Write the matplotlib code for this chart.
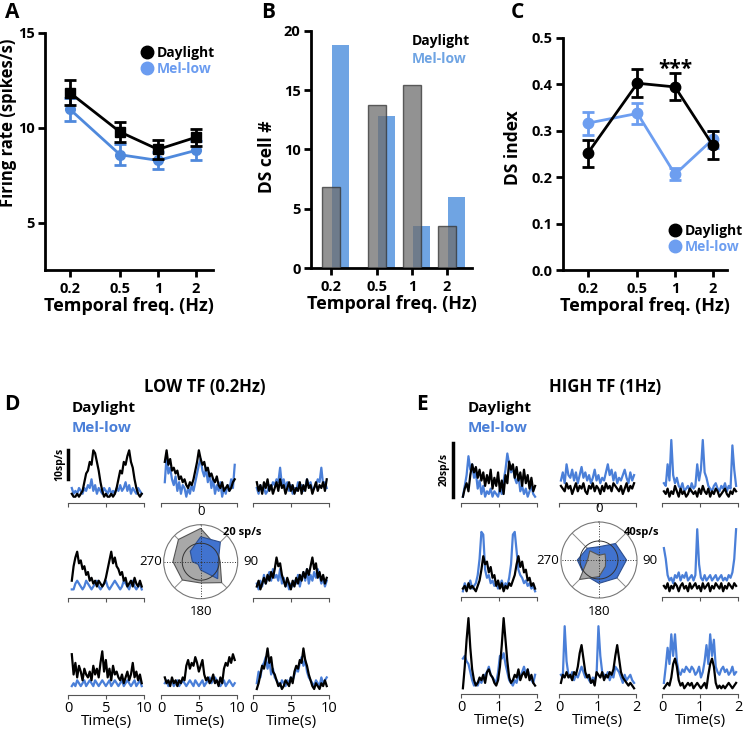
import numpy as np
import matplotlib.pyplot as plt
from matplotlib.lines import Line2D

plt.rcParams['font.family'] = ['Open Sans', 'DejaVu Sans']

W, H = 745, 733

freqs = [0.2, 0.5, 1, 2]
freq_labels = ['0.2', '0.5', '1', '2']

# A: firing rate (spikes/s)
rate_day = [11.85, 9.78, 8.86, 9.5]
rate_day_err = [0.65, 0.55, 0.5, 0.45]
rate_mel = [10.98, 8.58, 8.28, 8.81]
rate_mel_err = [0.6, 0.55, 0.45, 0.5]

# B: number of DS cells
ds_count_day = [6.85, 13.7, 15.4, 3.5]
ds_count_mel = [18.8, 12.8, 3.5, 6.0]

# C: DS index
ds_day = [0.251, 0.402, 0.394, 0.269]
ds_day_err = [0.029, 0.03, 0.029, 0.03]
ds_mel = [0.316, 0.337, 0.206, 0.281]
ds_mel_err = [0.025, 0.023, 0.013, 0.018]

# polar tuning (sp/s) for directions 0..315
directions = [0, 45, 90, 135, 180, 225, 270, 315]
low_tf_day = [18, 12, 10.5, 16, 11.5, 14, 15, 17]
low_tf_mel = [13.5, 15, 9.5, 13, 4.5, 2, 4.5, 8]
high_tf_day = [5, 9, 7, 9.5, 17.5, 29, 12, 13.7]
high_tf_mel = [14, 24.5, 29, 26.7, 24.6, 22, 22.8, 17.5]

# PSTH traces (sp/s), order: row1 c1-c3, row2 c1, row2 c3, row3 c1-c3
t_low = np.linspace(0.5, 9.7, 40)
t_high = np.linspace(0.05, 1.95, 40)

low_day = [
    [1, 0, 0, 1, 0, 1, 2, 5, 8, 9, 12, 11, 16, 15, 12, 9, 5, 2, 0, 1, 0, 0, 1, 0, 1, 3, 6, 9, 8, 12, 11, 14, 16, 12, 10, 6, 3, 1, 0, 1],
    [12, 16, 11, 13, 9, 10, 8, 9, 6, 7, 5, 6, 4, 3, 5, 4, 6, 9, 12, 16, 13, 11, 12, 9, 10, 7, 8, 6, 5, 7, 4, 3, 5, 2, 3, 4, 2, 3, 5, 6],
    [5, 2, 4, 1, 5, 3, 6, 2, 4, 1, 3, 5, 2, 6, 3, 4, 1, 3, 5, 2, 4, 1, 3, 2, 5, 1, 4, 2, 6, 3, 4, 1, 3, 5, 2, 4, 3, 5, 2, 6],
    [4, 9, 12, 14, 10, 11, 8, 9, 6, 7, 4, 5, 3, 4, 2, 4, 3, 2, 3, 5, 8, 11, 14, 10, 12, 9, 8, 6, 7, 4, 5, 2, 3, 4, 2, 5, 3, 2, 4, 2],
    [2, 4, 1, 3, 5, 3, 6, 4, 7, 5, 8, 12, 9, 10, 6, 4, 2, 5, 3, 1, 4, 2, 5, 3, 6, 4, 7, 5, 8, 6, 9, 12, 8, 10, 5, 7, 4, 6, 3, 5],
    [12, 5, 9, 4, 8, 6, 3, 7, 5, 4, 6, 3, 8, 5, 7, 4, 9, 13, 6, 10, 4, 7, 3, 8, 5, 6, 4, 3, 5, 2, 4, 6, 3, 5, 9, 4, 6, 3, 5, 2],
    [4, 2, 3, 1, 4, 2, 3, 1, 3, 2, 4, 3, 8, 10, 7, 9, 8, 11, 9, 6, 8, 10, 5, 3, 4, 2, 3, 5, 2, 3, 1, 4, 2, 7, 9, 8, 11, 9, 12, 10],
    [0, 2, 5, 8, 7, 10, 14, 9, 11, 6, 5, 3, 1, 2, 0, 1, 3, 2, 1, 4, 2, 6, 8, 7, 10, 9, 14, 10, 8, 5, 3, 1, 0, 2, 1, 0, 2, 1, 3, 1],
]
low_mel = [
    [3, 1, 2, 1, 3, 2, 1, 3, 2, 4, 3, 6, 2, 4, 1, 3, 2, 1, 3, 2, 1, 3, 1, 2, 1, 3, 2, 4, 2, 3, 5, 2, 4, 1, 3, 2, 1, 3, 2, 1],
    [5, 14, 8, 10, 6, 4, 7, 2, 5, 1, 4, 3, 0, 3, 1, 4, 2, 5, 8, 11, 13, 9, 7, 10, 5, 8, 3, 6, 1, 4, 2, 5, 0, 3, 1, 4, 2, 6, 3, 11],
    [3, 1, 4, 2, 3, 1, 2, 4, 3, 5, 4, 6, 5, 10, 4, 6, 3, 5, 2, 4, 1, 3, 2, 5, 3, 4, 2, 3, 6, 4, 5, 2, 3, 4, 6, 5, 10, 4, 5, 3],
    [1, 1, 3, 4, 3, 2, 1, 2, 4, 3, 2, 1, 2, 3, 4, 2, 1, 2, 3, 4, 2, 1, 2, 3, 4, 3, 2, 1, 2, 4, 3, 2, 1, 3, 4, 2, 1, 2, 3, 1],
    [3, 1, 4, 2, 6, 3, 5, 7, 4, 8, 5, 6, 4, 8, 3, 5, 2, 4, 1, 3, 2, 4, 3, 6, 2, 5, 7, 4, 8, 3, 6, 4, 7, 5, 8, 6, 3, 5, 2, 4],
    [1, 2, 1, 3, 2, 1, 2, 3, 1, 2, 3, 2, 1, 3, 2, 1, 2, 3, 2, 1, 2, 3, 1, 2, 3, 2, 1, 2, 3, 1, 2, 3, 2, 1, 2, 3, 1, 2, 3, 1],
    [2, 3, 1, 2, 3, 1, 2, 3, 1, 2, 3, 2, 1, 2, 3, 2, 1, 3, 2, 1, 2, 3, 1, 2, 3, 4, 2, 3, 4, 3, 2, 1, 2, 3, 1, 2, 3, 2, 1, 2],
    [2, 6, 4, 8, 9, 11, 7, 10, 5, 7, 4, 3, 2, 1, 3, 2, 1, 3, 2, 4, 3, 5, 7, 6, 9, 11, 8, 10, 6, 4, 3, 2, 1, 3, 2, 1, 4, 2, 3, 4],
]
high_day = [
    [0, 3, 5, 2, 8, 12, 9, 11, 7, 10, 6, 9, 4, 8, 5, 10, 3, 7, 4, 9, 2, 6, 1, 8, 5, 13, 10, 12, 7, 11, 6, 9, 4, 10, 5, 8, 3, 7, 2, 4],
    [4, 3, 2, 5, 3, 4, 1, 3, 5, 2, 4, 3, 5, 2, 1, 4, 3, 5, 2, 4, 3, 1, 4, 2, 5, 3, 4, 2, 5, 4, 3, 2, 4, 1, 3, 5, 2, 4, 3, 5],
    [2, 1, 3, 0, 2, 1, 4, 2, 0, 3, 1, 2, 0, 1, 3, 2, 1, 2, 0, 3, 1, 4, 2, 1, 3, 0, 2, 1, 3, 2, 0, 1, 2, 3, 1, 0, 2, 1, 3, 2],
    [1, 2, 0, 3, 1, 2, 1, 0, 2, 4, 8, 13, 10, 11, 7, 9, 5, 6, 2, 4, 1, 3, 0, 2, 1, 3, 2, 4, 6, 10, 13, 9, 11, 7, 8, 4, 5, 2, 3, 1],
    [2, 1, 3, 0, 2, 1, 3, 2, 0, 2, 3, 1, 2, 0, 3, 1, 2, 3, 1, 2, 0, 3, 1, 2, 3, 0, 2, 1, 3, 2, 1, 3, 0, 2, 1, 3, 2, 1, 3, 2],
    [0, 8, 18, 26, 15, 7, 3, 1, 2, 4, 3, 5, 2, 6, 7, 5, 4, 2, 1, 3, 8, 16, 26, 18, 10, 4, 2, 3, 5, 4, 7, 3, 5, 6, 4, 7, 3, 5, 2, 1],
    [2, 5, 4, 6, 4, 5, 3, 6, 5, 8, 13, 16, 11, 6, 4, 5, 2, 3, 1, 6, 5, 4, 6, 3, 5, 4, 6, 5, 7, 12, 16, 11, 6, 4, 3, 2, 1, 2, 1, 0],
    [0, 1, 2, 1, 4, 9, 11, 8, 3, 1, 2, 0, 1, 2, 1, 2, 0, 1, 2, 1, 0, 1, 2, 0, 5, 9, 11, 8, 2, 0, 1, 0, 1, 0, 1, 2, 1, 0, 1, 2],
]
high_mel = [
    [0, 4, 8, 15, 10, 12, 7, 9, 3, 6, 1, 4, 0, 2, 1, 3, 0, 2, 1, 0, 3, 1, 6, 10, 16, 12, 9, 11, 7, 5, 8, 2, 4, 1, 3, 0, 2, 4, 1, 0],
    [6, 9, 5, 12, 8, 7, 10, 6, 9, 5, 8, 11, 7, 9, 6, 8, 5, 7, 10, 6, 8, 5, 7, 6, 9, 12, 8, 10, 6, 9, 5, 7, 6, 8, 10, 7, 5, 9, 6, 8],
    [5, 4, 12, 6, 21, 8, 5, 7, 4, 3, 5, 2, 3, 4, 2, 5, 3, 4, 12, 6, 10, 21, 9, 7, 4, 3, 2, 4, 5, 3, 2, 4, 3, 5, 2, 4, 3, 19, 10, 4],
    [0, 3, 1, 2, 4, 1, 2, 3, 6, 12, 22, 21, 8, 5, 6, 3, 4, 2, 3, 1, 2, 4, 1, 3, 2, 5, 10, 21, 22, 15, 8, 6, 5, 3, 4, 2, 3, 1, 2, 0],
    [16, 12, 6, 4, 5, 3, 6, 5, 7, 4, 6, 5, 7, 4, 5, 6, 4, 6, 23, 10, 5, 4, 6, 4, 5, 6, 4, 5, 6, 4, 5, 6, 4, 5, 4, 6, 5, 7, 12, 23],
    [11, 12, 10, 9, 6, 3, 1, 2, 1, 3, 2, 4, 5, 6, 8, 5, 4, 3, 2, 6, 12, 11, 13, 9, 6, 3, 2, 1, 3, 2, 5, 4, 6, 8, 5, 7, 4, 3, 2, 5],
    [5, 4, 23, 10, 5, 4, 6, 3, 5, 4, 6, 8, 6, 4, 5, 3, 2, 4, 3, 5, 23, 12, 6, 5, 4, 6, 3, 5, 4, 8, 7, 6, 4, 2, 5, 3, 4, 5, 3, 2],
    [2, 8, 15, 9, 20, 12, 20, 10, 6, 5, 7, 6, 8, 7, 6, 8, 7, 5, 6, 8, 4, 6, 10, 16, 9, 20, 12, 18, 8, 6, 5, 7, 8, 6, 7, 5, 6, 8, 5, 6],
]

BLACK = 'black'
BLUE_A = '#4f89dc'
BLUE_LEG = '#6b9cf0'
BLUE_C = '#6d9ef0'
BLUE_BAR = '#6fa4e3'
GREY_BAR = '#6e6e6e'
BLUE_TR = '#4a7fd8'
BLUE_POL = '#4173cf'


def px_rect(x0, y0, x1, y1):
    return [x0 / W, 1 - y1 / H, (x1 - x0) / W, (y1 - y0) / H]


def style_top(ax):
    for s in ['top', 'right']:
        ax.spines[s].set_visible(False)
    for s in ['left', 'bottom']:
        ax.spines[s].set_linewidth(2)
    ax.tick_params(width=2, length=5, labelsize=10.5)
    ax.tick_params(axis='y', pad=2.5)
    ax.minorticks_off()
    for lab in ax.get_xticklabels() + ax.get_yticklabels():
        lab.set_fontweight('bold')


fig = plt.figure(figsize=(W / 100, H / 100), dpi=100)

# ---------------- A ----------------
axA = fig.add_axes(px_rect(45, 33, 213, 270))
axA.errorbar(freqs, rate_day, yerr=rate_day_err, color=BLACK, marker='s', ms=7,
             lw=2, elinewidth=2, capsize=4, capthick=2, zorder=3)
axA.errorbar(freqs, rate_mel, yerr=rate_mel_err, color=BLUE_A, marker='o', ms=7,
             lw=2, elinewidth=2, capsize=4, capthick=2, zorder=2)
axA.set_xscale('log')
axA.set_xlim(0.127, 2.73)
axA.set_ylim(2.5, 15)
axA.set_xticks(freqs)
axA.set_xticklabels(freq_labels)
axA.set_yticks([5, 10, 15])
style_top(axA)
axA.set_ylabel('Firing rate (spikes/s)', fontsize=12, fontweight='bold')
axA.yaxis.set_label_coords(-28 / 168, 0.62)
axA.set_xlabel('Temporal freq. (Hz)', fontsize=13, fontweight='bold', labelpad=1)
hA = [Line2D([], [], marker='o', ls='none', ms=9, color=BLACK),
      Line2D([], [], marker='o', ls='none', ms=9, color=BLUE_LEG)]
axA.legend(hA, ['Daylight', 'Mel-low'], loc='upper left', bbox_to_anchor=(0.535, 0.975),
           frameon=False, handlelength=0.8, handletextpad=0.3, labelspacing=0.15,
           borderpad=0, prop={'weight': 'bold', 'size': 10}, labelcolor='markerfacecolor')
fig.text(12 / W, 1 - 12 / H, 'A', fontsize=15, fontweight='bold', va='center', ha='center')

# ---------------- B ----------------
axB = fig.add_axes(px_rect(311, 30.7, 472, 268))
xb = np.log10(freqs)
axB.bar(xb + 0.08, ds_count_mel, width=0.15, color=BLUE_BAR, zorder=2)
axB.bar(xb, ds_count_day, width=0.15, color=GREY_BAR, alpha=0.75, edgecolor='#333333',
        linewidth=1, zorder=3)
axB.set_xlim(-0.871, 0.517)
axB.set_ylim(0, 20)
axB.set_xticks(xb)
axB.set_xticklabels(freq_labels)
axB.set_yticks([0, 5, 10, 15, 20])
style_top(axB)
axB.set_ylabel('DS cell #', fontsize=12.5, fontweight='bold')
axB.yaxis.set_label_coords(-35 / 161, 0.468)
axB.set_xlabel('Temporal freq. (Hz)', fontsize=13, fontweight='bold', labelpad=1)
axB.text(0.625, 0.955, 'Daylight', transform=axB.transAxes, fontsize=10, fontweight='bold',
         color=BLACK, va='center')
axB.text(0.625, 0.88, 'Mel-low', transform=axB.transAxes, fontsize=10, fontweight='bold',
         color=BLUE_BAR, va='center')
fig.text(268 / W, 1 - 12 / H, 'B', fontsize=15, fontweight='bold', va='center', ha='center')

# ---------------- C ----------------
axC = fig.add_axes(px_rect(563, 37.7, 726.7, 270))
axC.errorbar(freqs, ds_day, yerr=ds_day_err, color=BLACK, marker='o', ms=7.5,
             lw=2, elinewidth=2, capsize=4, capthick=2, zorder=3)
axC.errorbar(freqs, ds_mel, yerr=ds_mel_err, color=BLUE_C, marker='o', ms=7.5,
             lw=2, elinewidth=2, capsize=4, capthick=2, zorder=2)
axC.set_xscale('log')
axC.set_xlim(0.127, 2.59)
axC.set_ylim(0, 0.5)
axC.set_xticks(freqs)
axC.set_xticklabels(freq_labels)
axC.set_yticks([0, 0.1, 0.2, 0.3, 0.4, 0.5])
axC.set_yticklabels(['0.0', '0.1', '0.2', '0.3', '0.4', '0.5'])
style_top(axC)
axC.set_ylabel('DS index', fontsize=12.5, fontweight='bold')
axC.yaxis.set_label_coords(-41 / 164, 0.528)
axC.set_xlabel('Temporal freq. (Hz)', fontsize=13, fontweight='bold', labelpad=1)
axC.text(1, 0.432, '***', fontsize=15, ha='center', va='center', fontweight='bold')
hC = [Line2D([], [], marker='o', ls='none', ms=9, color=BLACK),
      Line2D([], [], marker='o', ls='none', ms=9, color=BLUE_C)]
axC.legend(hC, ['Daylight', 'Mel-low'], loc='lower left', bbox_to_anchor=(0.61, 0.04),
           frameon=False, handlelength=0.8, handletextpad=0.3, labelspacing=0.15,
           borderpad=0, prop={'weight': 'bold', 'size': 10}, labelcolor='markerfacecolor')
fig.text(517 / W, 1 - 12 / H, 'C', fontsize=15, fontweight='bold', va='center', ha='center')


# ---------------- D / E traces ----------------
def trace_panel(rect_px, t, day, mel, xmax, ticks, scale, label_row):
    x0, x1, yaxis = rect_px
    hpx = 82
    base = 6
    ax = fig.add_axes(px_rect(x0, yaxis - hpx, x1, yaxis))
    ax.patch.set_alpha(0)
    ax.plot(t, mel, color=BLUE_TR, lw=1.6, zorder=2)
    ax.plot(t, day, color=BLACK, lw=1.6, zorder=3)
    ax.set_xlim(0, xmax)
    ax.set_ylim(-base / scale, (hpx - base) / scale)
    for s in ['top', 'right', 'left']:
        ax.spines[s].set_visible(False)
    ax.spines['bottom'].set_linewidth(0.8)
    ax.spines['bottom'].set_color('#555555')
    ax.set_yticks([])
    ax.set_xticks(ticks)
    ax.tick_params(axis='x', length=3, width=0.8, color='#555555', labelsize=10.5, pad=1)
    if label_row:
        ax.set_xticklabels([str(v) for v in ticks])
        ax.set_xlabel('Time(s)', fontsize=11, labelpad=-1)
    else:
        ax.set_xticklabels([])
    return ax


def polar_panel(cx, cy, r, rmax, day, mel, day_on_top, rlabel, rlabel_pos):
    ax = fig.add_axes(px_rect(cx - r, cy - r, cx + r, cy + r), projection='polar')
    ax.patch.set_alpha(0)
    ax.set_theta_zero_location('N')
    ax.set_theta_direction(-1)
    ax.set_ylim(0, rmax)
    ax.grid(False)
    ax.set_yticks([])
    ax.set_thetagrids([0, 90, 180, 270], ['0', '90', '180', '270'], fontsize=9.5)
    ax.tick_params(axis='x', pad=-1)
    ax.spines['polar'].set_color('#777777')
    ax.spines['polar'].set_linewidth(0.8)
    th = np.deg2rad(directions + [directions[0]])
    for a in [45, 135, 225, 315]:
        ax.plot([np.deg2rad(a)] * 2, [0, rmax], color='#888888', lw=0.7, zorder=1)
    for a in [0, 90, 180, 270]:
        ax.plot([np.deg2rad(a)] * 2, [0, rmax], color='#333333', lw=0.7, ls=':', zorder=5)
    circ = np.linspace(0, 2 * np.pi, 100)
    ax.plot(circ, np.full_like(circ, rmax / 2), color='#333333', lw=0.7, zorder=5)
    dz, mz = (4, 3) if day_on_top else (3, 4)
    ax.fill(th, day + [day[0]], facecolor='#a8a8a8', edgecolor='#555555', lw=0.8, zorder=dz)
    ax.fill(th, mel + [mel[0]], facecolor=BLUE_POL, edgecolor='#2d4f8f', lw=0.8, zorder=mz)
    ax.text(np.deg2rad(rlabel_pos[0]), rlabel_pos[1] * rmax, rlabel, fontsize=8,
            fontweight='bold', ha='center', va='center')
    return ax


d_cols = [(68, 144), (161, 237), (253, 329)]
d_rows = [502.7, 598.3, 695]
e_cols = [(461, 537), (559, 636), (662, 738)]
e_rows = [502.7, 597.3, 694.3]
cells = [(0, 0), (0, 1), (0, 2), (1, 0), (1, 2), (2, 0), (2, 1), (2, 2)]

d_axes = []
for k, (r, c) in enumerate(cells):
    x0, x1 = d_cols[c]
    d_axes.append(trace_panel((x0, x1, d_rows[r]), t_low, low_day[k], low_mel[k], 10,
                              [0, 5, 10], 2.9, r == 2))
e_axes = []
for k, (r, c) in enumerate(cells):
    x0, x1 = e_cols[c]
    e_axes.append(trace_panel((x0, x1, e_rows[r]), t_high, high_day[k], high_mel[k], 2,
                              [0, 1, 2], 2.7, r == 2))

# scale bars
d_axes[0].plot([-0.05, -0.05], [6, 16], color=BLACK, lw=2.5, clip_on=False)
d_axes[0].text(-1.05, 11, '10sp/s', rotation=90, fontsize=7.5, fontweight='bold',
               ha='center', va='center')
e_axes[0].plot([-0.21, -0.21], [0, 20], color=BLACK, lw=2.5, clip_on=False)
e_axes[0].text(-0.45, 10, '20sp/s', rotation=90, fontsize=7.5, fontweight='bold',
               ha='center', va='center')

polar_panel(200.7, 561.7, 37, 20, low_tf_day, low_tf_mel, False, '20 sp/s', (55, 1.38))
polar_panel(599, 560, 38, 40, high_tf_day, high_tf_mel, True, '40sp/s', (57, 1.33))

# titles and labels
fig.text(205 / W, 1 - 387 / H, 'LOW TF (0.2Hz)', fontsize=12, fontweight='bold',
         ha='center', va='center')
fig.text(605 / W, 1 - 387 / H, 'HIGH TF (1Hz)', fontsize=12, fontweight='bold',
         ha='center', va='center')
fig.text(72 / W, 1 - 408 / H, 'Daylight', fontsize=11, fontweight='bold', va='center')
fig.text(72 / W, 1 - 428 / H, 'Mel-low', fontsize=11, fontweight='bold', va='center',
         color=BLUE_TR)
fig.text(468 / W, 1 - 408 / H, 'Daylight', fontsize=11, fontweight='bold', va='center')
fig.text(468 / W, 1 - 428 / H, 'Mel-low', fontsize=11, fontweight='bold', va='center',
         color=BLUE_TR)
fig.text(12 / W, 1 - 405 / H, 'D', fontsize=15, fontweight='bold', va='center', ha='center')
fig.text(422 / W, 1 - 405 / H, 'E', fontsize=15, fontweight='bold', va='center', ha='center')

fig.savefig('out.png', dpi=100)
